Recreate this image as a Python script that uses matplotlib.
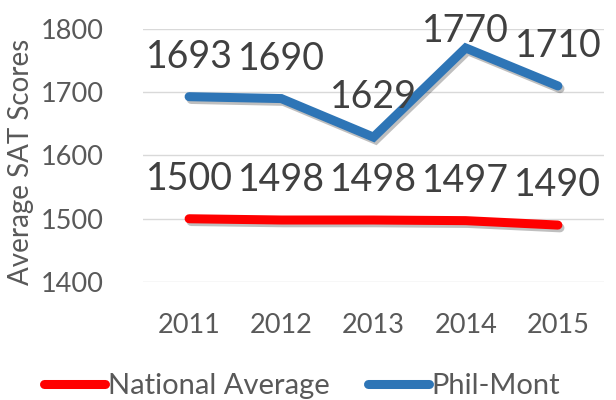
import matplotlib
matplotlib.use("Agg")
import matplotlib.pyplot as plt
import matplotlib.patheffects as pe

plt.rcParams['font.family'] = ['Lato', 'DejaVu Sans']

years = ["2011", "2012", "2013", "2014", "2015"]
national = [1500, 1498, 1498, 1497, 1490]
philmont = [1693, 1690, 1629, 1770, 1710]
series_names = ["National Average", "Phil-Mont"]
series_colors = ["#FF0000", "#2E75B6"]
yticks = [1400, 1500, 1600, 1700, 1800]

DPI = 100
fig = plt.figure(figsize=(6.16, 4.0), dpi=DPI)
ax = fig.add_axes([143/616, 118/400, 461/616, 253/400])

x = list(range(len(years)))
ax.set_xlim(-0.5, len(years) - 0.5)
ax.set_ylim(yticks[0], yticks[-1])
ax.set_yticks(yticks)
ax.set_xticks(x)
ax.set_xticklabels(years)
ax.grid(axis='y', color='#d9d9d9', linewidth=1.0)
ax.set_axisbelow(True)
for s in ax.spines.values():
    s.set_visible(False)
ax.tick_params(length=0, labelsize=19.5, labelcolor='#595959')
ax.tick_params(axis='y', pad=28)
ax.tick_params(axis='x', pad=22)
ax.set_ylabel("Average SAT Scores", fontsize=20, color='#595959')
ax.yaxis.set_label_coords(-0.236, 0.475)

shadow = [pe.SimpleLineShadow(offset=(1.5, -2), shadow_color='black', alpha=0.25),
          pe.Normal()]

lines = []
for vals, name, col in zip([national, philmont], series_names, series_colors):
    ln, = ax.plot(x, vals, color=col, linewidth=6.5, solid_capstyle='round',
                  solid_joinstyle='miter', label=name, path_effects=shadow, zorder=3)
    lines.append(ln)

fig.canvas.draw()
top_limit = 400 - 42  # display px
for vals in [national, philmont]:
    for xi, v in zip(x, vals):
        px, py = ax.transData.transform((xi, v))
        ty = min(py + 29, top_limit)
        ax.annotate(str(v), xy=(px, ty), xycoords='figure pixels', ha='center',
                    va='baseline', fontsize=27, color='#404040', zorder=4)

leg = fig.legend(handles=lines, labels=series_names, loc='center',
                 bbox_to_anchor=(302/616, 14/400), ncol=2, frameon=False,
                 fontsize=21, handlelength=2.1, handletextpad=0.1,
                 columnspacing=1.3, borderaxespad=0)
for t in leg.get_texts():
    t.set_color('#595959')
for h in leg.legend_handles:
    h.set_linewidth(6.5)
    h.set_solid_capstyle('round')
    h.set_path_effects([])

fig.savefig("out.png", dpi=DPI)
